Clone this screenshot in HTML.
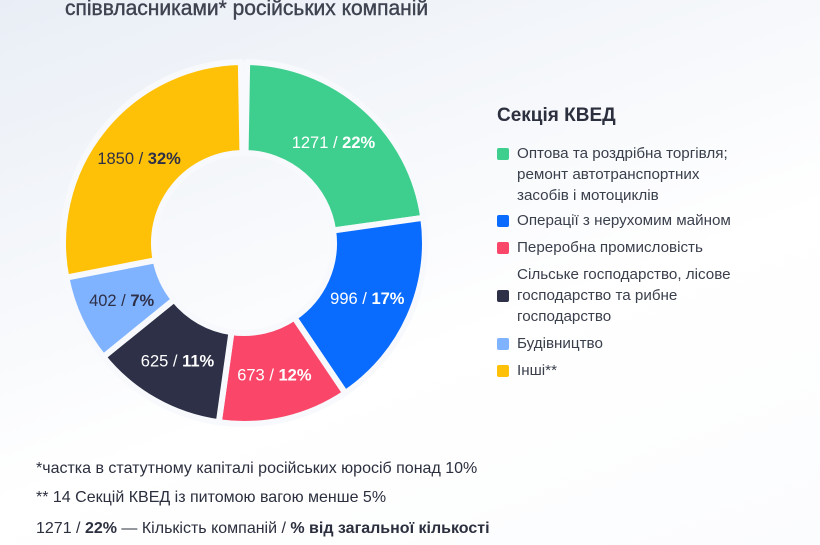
<!DOCTYPE html>
<html><head><meta charset="utf-8">
<style>
body{margin:0;width:820px;height:545px;overflow:hidden;font-family:"Liberation Sans","Noto Sans CJK SC",sans-serif;background:linear-gradient(160deg,#e9eef6 0%,#f6f8fb 35%,#ffffff 60%,#fbfcfe 100%);position:relative;color:#2b2f3e}
.title{position:absolute;left:65px;top:-3px;font-size:21px;color:#3e4350;white-space:nowrap;-webkit-text-stroke:0.4px #3e4350}
.lt{position:absolute;left:497px;top:105px;font-size:19px;font-weight:bold;color:#2b2f3e}
.li{position:absolute;left:497px;font-size:15.2px;line-height:21px;color:#3a3f4c}
.li .sq{position:absolute;left:0;width:12px;height:12px;border-radius:2px}
.li .tx{margin-left:20px;display:block}
.fn{position:absolute;left:36px;font-size:16px;color:#2b2f3e;white-space:nowrap}
</style></head><body>
<div class="title">співвласниками* російських компаній</div>
<svg id="chart" width="820" height="545" style="position:absolute;left:0;top:0"></svg>
<div class="lt">Секція КВЕД</div>
<div class="li" style="top:143px"><span class="sq" style="top:5px;background:#3ecf8e"></span><span class="tx">Оптова та роздрібна торгівля;<br>ремонт автотранспортних<br>засобів і мотоциклів</span></div>
<div class="li" style="top:210px"><span class="sq" style="top:5px;background:#0a6cff"></span><span class="tx">Операції з нерухомим майном</span></div>
<div class="li" style="top:237px"><span class="sq" style="top:5px;background:#fa4769"></span><span class="tx">Переробна промисловість</span></div>
<div class="li" style="top:264px"><span class="sq" style="top:26px;background:#2e3047"></span><span class="tx">Сільське господарство, лісове<br>господарство та рибне<br>господарство</span></div>
<div class="li" style="top:333px"><span class="sq" style="top:5px;background:#80b3ff"></span><span class="tx">Будівництво</span></div>
<div class="li" style="top:360px"><span class="sq" style="top:5px;background:#ffc107"></span><span class="tx">Інші**</span></div>
<div class="fn" style="top:460px">*частка в статутному капіталі російських юросіб понад 10%</div>
<div class="fn" style="top:489px">** 14 Секцій КВЕД із питомою вагою менше 5%</div>
<div class="fn" style="top:520px">1271 / <b>22%</b> — Кількість компаній / <b>% від загальної кількості</b></div>
<script>
const categories=["trade","real-estate","manufacturing","agriculture","construction","other"];
const counts=[1271,996,673,625,402,1850];
const percents=[22,17,12,11,7,32];
// arc sizes as drawn in the source graphic (degrees)
const arcShares=[81,64,42,43,28,100];
const colors=["#3ecf8e","#0a6cff","#fa4769","#2e3047","#80b3ff","#ffc107"];
const textColors=["#fff","#fff","#fff","#fff","#2e3047","#2e3047"];
const NS="http://www.w3.org/2000/svg";
const svg=document.getElementById("chart");
const cx=244,cy=243,R=181,r=90;
const total=arcShares.reduce((a,b)=>a+b,0)+2;
function pt(rad,a){return [cx+rad*Math.sin(a),cy-rad*Math.cos(a)];}
let a0=1/total*2*Math.PI;
arcShares.forEach((v,i)=>{
  const a1=a0+v/total*2*Math.PI;
  const big=(a1-a0)>Math.PI?1:0;
  const p1=pt(R,a0),p2=pt(R,a1),p3=pt(r,a1),p4=pt(r,a0);
  const p=document.createElementNS(NS,"path");
  p.setAttribute("d",`M${p1}A${R},${R} 0 ${big} 1 ${p2}L${p3}A${r},${r} 0 ${big} 0 ${p4}Z`);
  p.setAttribute("fill",colors[i]);
  p.setAttribute("stroke","#f7f9fc");
  p.setAttribute("stroke-width","6");
  p.setAttribute("stroke-linejoin","round");
  
  
  svg.appendChild(p);
  const am=(a0+a1)/2;const lp=pt(135,am);
  const t=document.createElementNS(NS,"text");
  t.setAttribute("x",lp[0]);t.setAttribute("y",lp[1]+6);
  t.setAttribute("text-anchor","middle");
  t.setAttribute("font-size","16.5");
  t.setAttribute("fill",textColors[i]);
  t.setAttribute("font-family","Liberation Sans, sans-serif");
  t.innerHTML=counts[i]+" / <tspan font-weight='bold'>"+percents[i]+"%</tspan>";
  
  
  svg.appendChild(t);
  a0=a1;
});
</script>
</body></html>
